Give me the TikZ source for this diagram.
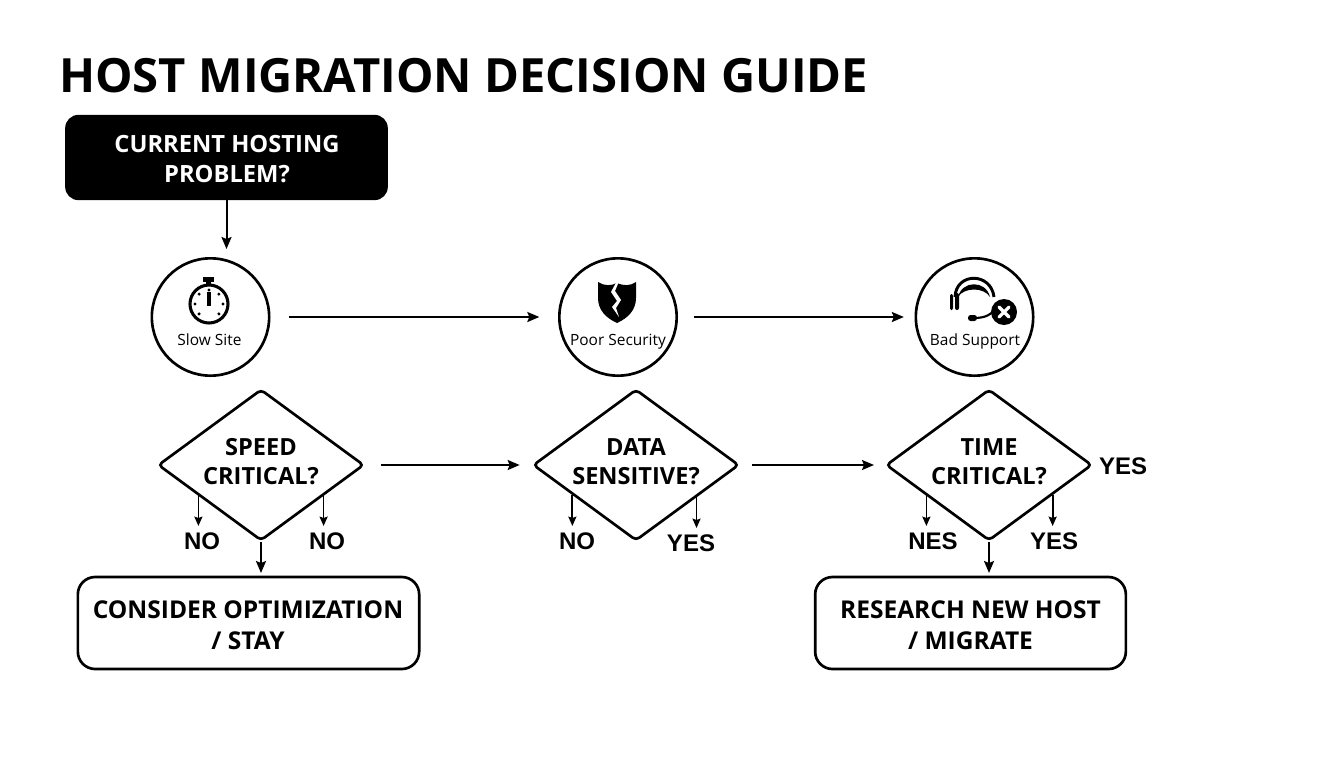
\documentclass[tikz,border=0pt]{standalone}
\usepackage{fontspec}
\setmainfont{Open Sans}
\newfontfamily\lab{Liberation Sans}
\usetikzlibrary{arrows.meta,shapes.geometric,calc}
\tikzset{
  x=0.75pt,y=-0.75pt,
  arr/.style={line width=1.5pt,-{Stealth[length=9pt,width=7.5pt,inset=1.5pt]}},
  smallarr/.style={line width=1.3pt,-{Stealth[length=7pt,width=6pt,inset=1pt]}},
  circ/.style={circle,draw,line width=2pt,minimum size=88pt,inner sep=0pt},
  captext/.style={font=\fontsize{11.6}{12}\selectfont,inner sep=0pt,anchor=base},
  dec/.style={diamond,draw,line width=2pt,minimum width=154.5pt,minimum height=113.5pt,inner sep=0pt,aspect=1.35,rounded corners=3pt},
  dectext/.style={align=center,inner sep=0pt,font=\bfseries\fontsize{17.7}{22}\selectfont},
  outcome/.style={draw,line width=2pt,rounded corners=13pt,align=center,font=\bfseries\fontsize{18.4}{23}\selectfont},
  ans/.style={font=\lab\bfseries\fontsize{18}{20}\selectfont,inner sep=0pt},
}
\begin{document}
\begin{tikzpicture}
\useasboundingbox (0,0) rectangle (1344,768);
\node[anchor=west,inner sep=0pt,font=\bfseries\fontsize{35.4}{40}\selectfont] (title) at (59,76) {HOST MIGRATION DECISION GUIDE};
\node[fill=black,minimum width=242pt,minimum height=64pt,rounded corners=10pt] (start) at (226.5,157.5) {};
\node[text=white,align=center,inner sep=0pt,font=\bfseries\fontsize{17.8}{23}\selectfont] (startt) at (227,159) {CURRENT HOSTING\\PROBLEM?};
\coordinate (startend) at (226.5,249);
\draw[arr] (start.south) -- (startend);

\node[circ] (slow) at (210.5,317) {};
\node[circ] (sec) at (618,317) {};
\node[circ] (bad) at (974.5,317) {};
\node[captext] (slowt) at (209.5,345.5) {Slow Site};
\node[captext] (sect) at (618,345.5) {Poor Security};
\node[captext] (badt) at (975,345.5) {Bad Support};

% stopwatch
\fill (203,277) rectangle (214,282);
\fill (206,282) rectangle (211,286);
\draw[line width=2.3pt] (209,304) circle (19);
\draw[line width=2.4pt] (209,292) -- (209,306);
\foreach \a in {0,45,135,180,225,270,315}
  \fill (209,304) ++(\a:14) circle (1.7);

% shield
\fill (617,283) .. controls (624,286) and (630,286) .. (636,282) -- (636,298)
  .. controls (636,310) and (628,318) .. (617,323)
  .. controls (606,318) and (598,310) .. (598,298) -- (598,282)
  .. controls (604,286) and (611,286) .. (617,283) -- cycle;
\fill[white] (618,279) -- (611,292) -- (617,301) -- (612,307) -- (619,317) -- (616,308) -- (621,300) -- (615,291) -- (620,279) -- cycle;

% headset
\draw[line width=2.2pt] (955,297) .. controls (956,272) and (991,272) .. (994,297);
\fill (958,297) .. controls (962,280) and (986,280) .. (990,297) .. controls (984,287) and (964,287) .. (958,297) -- cycle;
\fill[rounded corners=1.5pt] (950,294) rectangle (953,310);
\fill[rounded corners=1.5pt] (955,293) rectangle (959,310);
\draw[line width=1.6pt] (997,306) .. controls (992,315) and (985,318) .. (974,318);
\fill[rounded corners=2pt] (968,315) rectangle (977,321);
\fill (1004,312) circle (13);
\draw[white,line width=2.4pt,line cap=round] (999,307) -- (1009,317) (1009,307) -- (999,317);

% decisions
\node[dec] (d1) at (261,465) {};
\node[dec] (d2) at (636,465) {};
\node[dec] (d3) at (989,465) {};
\node[dectext] (d1t) at (261,461.5) {SPEED\\CRITICAL?};
\node[dectext] (d2t) at (636,461.5) {DATA\\SENSITIVE?};
\node[dectext] (d3t) at (989,461.5) {TIME\\CRITICAL?};

\node[outcome,minimum width=256pt,minimum height=69pt] (stay) at (248.5,623) {};
\node[outcome,minimum width=233pt,minimum height=69pt] (migrate) at (970.5,623) {};
\node[outcome,draw=none,inner sep=0pt] (stayt) at (248,625) {CONSIDER OPTIMIZATION\\/ STAY};
\node[outcome,draw=none,inner sep=0pt] (migratet) at (970.5,625) {RESEARCH NEW HOST\\/ MIGRATE};

\node[ans] (n1) at (202,541) {NO};
\node[ans] (n2) at (327,541) {NO};
\node[ans] (n3) at (577,541) {NO};
\node[ans] (y1) at (691,543) {YES};
\node[ans] (n4) at (933,541) {NES};
\node[ans] (y2) at (1054,541) {YES};
\node[ans] (y3) at (1123,466) {YES};

\draw[arr,shorten <=14pt,shorten >=14pt] (slow.east) -- (sec.west);
\draw[arr,shorten <=12pt,shorten >=8pt] (sec.east) -- (bad.west);
\draw[arr,shorten <=12pt,shorten >=9pt] (d1.east) -- (d2.west);
\draw[arr,shorten <=9pt,shorten >=8pt] (d2.east) -- (d3.west);
\draw[arr,shorten >=2pt] (d1.south) -- (d1.south |- stay.north);
\draw[arr,shorten >=2pt] (d3.south) -- (d3.south |- migrate.north);

\coordinate (s1) at ($(d1.west)!0.40!(d1.south)$);
\coordinate (s2) at ($(d1.east)!0.40!(d1.south)$);
\coordinate (s3) at ($(d2.west)!0.39!(d2.south)$);
\coordinate (s4) at ($(d2.east)!0.42!(d2.south)$);
\coordinate (s5) at ($(d3.west)!0.40!(d3.south)$);
\coordinate (s6) at ($(d3.east)!0.39!(d3.south)$);
\draw[smallarr] (s1) -- (s1 |- 0,526);
\draw[smallarr] (s2) -- (s2 |- 0,526);
\draw[smallarr] (s3) -- (s3 |- 0,526);
\draw[smallarr] (s4) -- (s4 |- 0,528);
\draw[smallarr] (s5) -- (s5 |- 0,526);
\draw[smallarr] (s6) -- (s6 |- 0,526);
\end{tikzpicture}
\end{document}
